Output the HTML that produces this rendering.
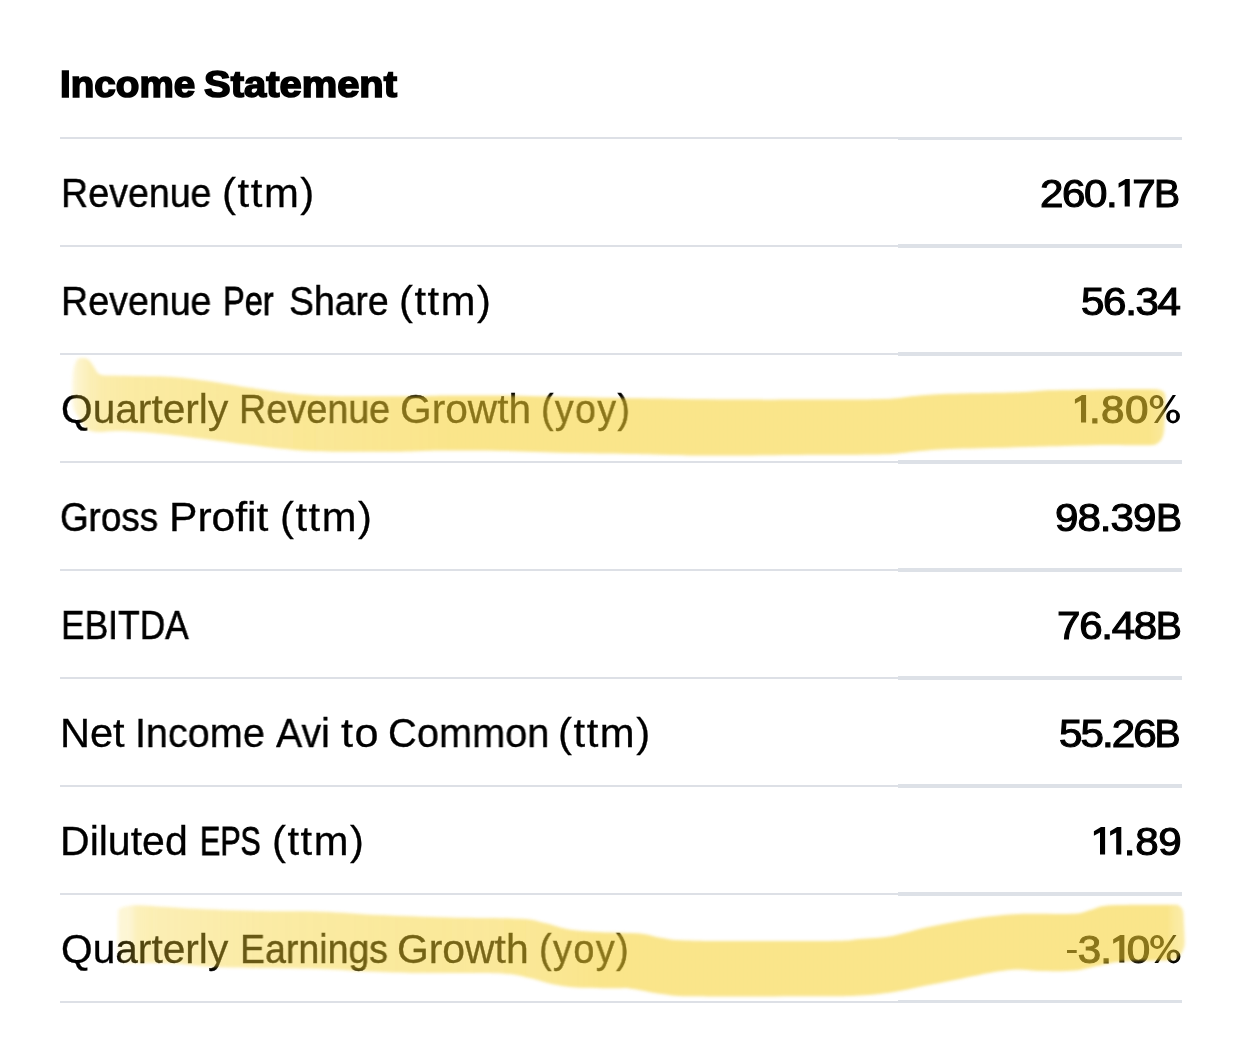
<!DOCTYPE html>
<html><head><meta charset="utf-8">
<style>
html,body{margin:0;padding:0;background:#fff;}
body{width:1242px;height:1046px;position:relative;overflow:hidden;font-family:"Liberation Sans",sans-serif;color:#000;}
.t{position:absolute;white-space:nowrap;line-height:1;will-change:transform;transform-origin:0 0;}
.title{font-weight:bold;-webkit-text-stroke:1.6px #000;}
.v{-webkit-text-stroke:1.1px #000;}
.l{-webkit-text-stroke:0.2px #000;}
.v .u{font-size:38.5px;display:inline-block;transform:scaleX(.94);transform-origin:100% 50%;margin-left:-1.3px;}
.hy{display:inline-block;width:9.3px;height:3.3px;background:#000;vertical-align:9.6px;margin-right:0.6px;}
.g1,.gp{display:inline-block;vertical-align:baseline;overflow:visible;}
.gp{margin-left:1px;position:relative;top:0.5px;}
.ln{position:absolute;left:60px;width:838px;height:2px;background:#dde0e6;}
.lr{position:absolute;left:898px;width:284px;height:3px;background:#dde1e7;}
.hl{position:absolute;left:0;top:0;pointer-events:none;}
</style></head><body>
<div class="t title" id="t_a" style="top:66.0px;font-size:37px;transform:scaleX(1.0437);left:59.79px;">Income</div>
<div class="t title" id="t_b" style="top:66.0px;font-size:37px;transform:scaleX(1.0793);left:204.26px;">Statement</div>
<div class="t l" id="l1a" style="top:173.0px;font-size:40px;transform:scaleX(0.9395);-webkit-text-stroke:0.45px #000;left:60.69px;">Revenue</div>
<div class="t l" id="l1b" style="top:173.0px;font-size:40px;letter-spacing:1.5px;transform:scaleX(1.0458);-webkit-text-stroke:0.30px #000;left:221.59px;">(ttm)</div>
<div class="t l" id="l2a" style="top:281.0px;font-size:40px;transform:scaleX(0.9395);-webkit-text-stroke:0.45px #000;left:60.69px;">Revenue</div>
<div class="t l" id="l2b" style="top:281.0px;font-size:40px;transform:scaleX(0.8133);-webkit-text-stroke:0.77px #000;left:223.12px;">Per</div>
<div class="t l" id="l2c" style="top:281.0px;font-size:40px;transform:scaleX(0.9331);-webkit-text-stroke:0.47px #000;left:289.42px;">Share</div>
<div class="t l" id="l2d" style="top:281.0px;font-size:40px;letter-spacing:1.5px;transform:scaleX(1.0407);-webkit-text-stroke:0.30px #000;left:398.69px;">(ttm)</div>
<div class="t l" id="l3a" style="top:389.0px;font-size:40px;transform:scaleX(1.0165);-webkit-text-stroke:0.30px #000;left:60.55px;">Quarterly</div>
<div class="t l" id="l3b" style="top:389.0px;font-size:40px;transform:scaleX(0.9441);-webkit-text-stroke:0.44px #000;left:238.69px;">Revenue</div>
<div class="t l" id="l3c" style="top:389.0px;font-size:40px;transform:scaleX(1.017);-webkit-text-stroke:0.30px #000;left:400.41px;">Growth</div>
<div class="t l" id="l3d" style="top:389.0px;font-size:40px;letter-spacing:1.5px;transform:scaleX(0.9382);-webkit-text-stroke:0.45px #000;left:540.97px;">(yoy)</div>
<div class="t l" id="l4a" style="top:497.0px;font-size:40px;transform:scaleX(0.919);-webkit-text-stroke:0.50px #000;left:59.62px;">Gross</div>
<div class="t l" id="l4b" style="top:497.0px;font-size:40px;transform:scaleX(1.0649);-webkit-text-stroke:0.30px #000;left:169.22px;">Profit</div>
<div class="t l" id="l4c" style="top:497.0px;font-size:40px;letter-spacing:1.5px;transform:scaleX(1.0422);-webkit-text-stroke:0.30px #000;left:279.76px;">(ttm)</div>
<div class="t l" id="l5a" style="top:605.0px;font-size:40px;transform:scaleX(0.8842);-webkit-text-stroke:0.59px #000;left:60.86px;">EBITDA</div>
<div class="t l" id="l6a" style="top:713.0px;font-size:40px;transform:scaleX(1.0386);-webkit-text-stroke:0.30px #000;left:60.34px;">Net</div>
<div class="t l" id="l6b" style="top:713.0px;font-size:40px;transform:scaleX(0.9896);-webkit-text-stroke:0.33px #000;left:135.01px;">Income</div>
<div class="t l" id="l6c" style="top:713.0px;font-size:40px;transform:scaleX(0.98);-webkit-text-stroke:0.35px #000;left:276.32px;">Avi</div>
<div class="t l" id="l6d" style="top:713.0px;font-size:40px;letter-spacing:1.5px;transform:scaleX(1.0791);-webkit-text-stroke:0.30px #000;left:340.72px;">to</div>
<div class="t l" id="l6e" style="top:713.0px;font-size:40px;transform:scaleX(0.9946);-webkit-text-stroke:0.31px #000;left:387.91px;">Common</div>
<div class="t l" id="l6f" style="top:713.0px;font-size:40px;letter-spacing:1.5px;transform:scaleX(1.0442);-webkit-text-stroke:0.30px #000;left:557.64px;">(ttm)</div>
<div class="t l" id="l7a" style="top:821.0px;font-size:40px;transform:scaleX(1.0257);-webkit-text-stroke:0.30px #000;left:59.93px;">Diluted</div>
<div class="t l" id="l7b" style="top:821.0px;font-size:40px;transform:scaleX(0.7596);-webkit-text-stroke:0.90px #000;left:199.69px;">EPS</div>
<div class="t l" id="l7c" style="top:821.0px;font-size:40px;letter-spacing:1.5px;transform:scaleX(1.0407);-webkit-text-stroke:0.30px #000;left:271.69px;">(ttm)</div>
<div class="t l" id="l8a" style="top:929.0px;font-size:40px;transform:scaleX(1.0165);-webkit-text-stroke:0.30px #000;left:60.55px;">Quarterly</div>
<div class="t l" id="l8b" style="top:929.0px;font-size:40px;transform:scaleX(0.9374);-webkit-text-stroke:0.46px #000;left:239.69px;">Earnings</div>
<div class="t l" id="l8c" style="top:929.0px;font-size:40px;transform:scaleX(1.0211);-webkit-text-stroke:0.30px #000;left:397.32px;">Growth</div>
<div class="t l" id="l8d" style="top:929.0px;font-size:40px;letter-spacing:1.5px;transform:scaleX(0.9464);-webkit-text-stroke:0.43px #000;left:538.97px;">(yoy)</div>
<div class="t v" id="v1" style="top:174.0px;font-size:39px;letter-spacing:-1.322px;transform:scaleX(1.08);left:1040.2px;">260.<svg class="g1" width="14.72" preserveAspectRatio="none" height="27.6" viewBox="0 0 15.9 27.6"><path d="M9 0H13.1V27.6H8V5.4L1.9 8.8V4.2Z"/></svg>7<span class="u">B</span></div>
<div class="t v" id="v2" style="top:282.0px;font-size:39px;letter-spacing:-1.245px;transform:scaleX(1.08);left:1081.4px;">56.34</div>
<div class="t v" id="v3" style="top:390.0px;font-size:39px;letter-spacing:0.426px;transform:scaleX(1.08);left:1073.0px;"><svg class="g1" width="14.72" preserveAspectRatio="none" height="27.6" viewBox="0 0 15.9 27.6"><path d="M9 0H13.1V27.6H8V5.4L1.9 8.8V4.2Z"/></svg>.80<svg class="gp" width="27.96" preserveAspectRatio="none" height="28.6" viewBox="0 0 30.2 28.6"><path fill-rule="evenodd" d="M0 6.95A6.9 6.95 0 1 0 13.8 6.95A6.9 6.95 0 1 0 0 6.95ZM3.7 6.95A3.2 4.2 0 1 0 10.1 6.95A3.2 4.2 0 1 0 3.7 6.95ZM16.5 21.45A6.9 6.95 0 1 0 30.3 21.45A6.9 6.95 0 1 0 16.5 21.45ZM20.2 21.45A3.2 4.2 0 1 0 26.6 21.45A3.2 4.2 0 1 0 20.2 21.45ZM23 .1H26.3L8 28.1H4.3Z"/></svg></div>
<div class="t v" id="v4" style="top:498.0px;font-size:39px;letter-spacing:-0.936px;transform:scaleX(1.08);left:1055.0px;">98.39<span class="u">B</span></div>
<div class="t v" id="v5" style="top:606.0px;font-size:39px;letter-spacing:-1.185px;transform:scaleX(1.08);left:1056.6px;">76.48<span class="u">B</span></div>
<div class="t v" id="v6" style="top:714.0px;font-size:39px;letter-spacing:-1.808px;transform:scaleX(1.08);left:1059.4px;">55.26<span class="u">B</span></div>
<div class="t v" id="v7" style="top:822.0px;font-size:39px;letter-spacing:-0.329px;transform:scaleX(1.08);left:1092.0px;"><svg class="g1" width="14.72" preserveAspectRatio="none" height="27.6" viewBox="0 0 15.9 27.6"><path d="M9 0H13.1V27.6H8V5.4L1.9 8.8V4.2Z"/></svg><svg class="g1" width="14.72" preserveAspectRatio="none" height="27.6" viewBox="0 0 15.9 27.6"><path d="M9 0H13.1V27.6H8V5.4L1.9 8.8V4.2Z"/></svg>.89</div>
<div class="t v" id="v8" style="top:930.0px;font-size:39px;letter-spacing:-0.864px;transform:scaleX(1.08);left:1067.0px;"><span class="hy"></span>3.<svg class="g1" width="14.72" preserveAspectRatio="none" height="27.6" viewBox="0 0 15.9 27.6"><path d="M9 0H13.1V27.6H8V5.4L1.9 8.8V4.2Z"/></svg>0<svg class="gp" width="27.96" preserveAspectRatio="none" height="28.6" viewBox="0 0 30.2 28.6"><path fill-rule="evenodd" d="M0 6.95A6.9 6.95 0 1 0 13.8 6.95A6.9 6.95 0 1 0 0 6.95ZM3.7 6.95A3.2 4.2 0 1 0 10.1 6.95A3.2 4.2 0 1 0 3.7 6.95ZM16.5 21.45A6.9 6.95 0 1 0 30.3 21.45A6.9 6.95 0 1 0 16.5 21.45ZM20.2 21.45A3.2 4.2 0 1 0 26.6 21.45A3.2 4.2 0 1 0 20.2 21.45ZM23 .1H26.3L8 28.1H4.3Z"/></svg></div>

<div class="ln" style="top:137px"></div><div class="lr" style="top:137px;height:3px"></div>
<div class="ln" style="top:245px"></div><div class="lr" style="top:244px;height:4px"></div>
<div class="ln" style="top:353px"></div><div class="lr" style="top:352px;height:4px"></div>
<div class="ln" style="top:461px"></div><div class="lr" style="top:460px;height:4px"></div>
<div class="ln" style="top:569px"></div><div class="lr" style="top:568px;height:4px"></div>
<div class="ln" style="top:677px"></div><div class="lr" style="top:676px;height:4px"></div>
<div class="ln" style="top:785px"></div><div class="lr" style="top:784px;height:4px"></div>
<div class="ln" style="top:893px"></div><div class="lr" style="top:892px;height:4px"></div>
<div class="ln" style="top:1001px"></div><div class="lr" style="top:1000px;height:3px"></div>

<svg class="hl" width="1242" height="1046" viewBox="0 0 1242 1046">
<defs>
<filter id="b" x="-2%" y="-20%" width="104%" height="140%"><feGaussianBlur stdDeviation="1.6"/></filter>
<linearGradient id="g1" gradientUnits="userSpaceOnUse" x1="68" y1="0" x2="1172" y2="0">
<stop offset="0.0000" stop-color="#f5d02e" stop-opacity="0.020"/>
<stop offset="0.0036" stop-color="#f5d02e" stop-opacity="0.120"/>
<stop offset="0.0091" stop-color="#f5d02e" stop-opacity="0.250"/>
<stop offset="0.0199" stop-color="#f5d02e" stop-opacity="0.340"/>
<stop offset="0.0290" stop-color="#f5d02e" stop-opacity="0.400"/>
<stop offset="0.0562" stop-color="#f5d02e" stop-opacity="0.440"/>
<stop offset="0.1649" stop-color="#f5d02e" stop-opacity="0.480"/>
<stop offset="0.2373" stop-color="#f5d02e" stop-opacity="0.510"/>
<stop offset="0.3460" stop-color="#f5d02e" stop-opacity="0.560"/>
<stop offset="0.9801" stop-color="#f5d02e" stop-opacity="0.560"/>
<stop offset="0.9891" stop-color="#f5d02e" stop-opacity="0.500"/>
<stop offset="0.9964" stop-color="#f5d02e" stop-opacity="0.420"/>
</linearGradient>
<linearGradient id="g2" gradientUnits="userSpaceOnUse" x1="114" y1="0" x2="1188" y2="0">
<stop offset="0.0000" stop-color="#f5d02e" stop-opacity="0.150"/>
<stop offset="0.0149" stop-color="#f5d02e" stop-opacity="0.220"/>
<stop offset="0.0214" stop-color="#f5d02e" stop-opacity="0.320"/>
<stop offset="0.0428" stop-color="#f5d02e" stop-opacity="0.370"/>
<stop offset="0.1359" stop-color="#f5d02e" stop-opacity="0.430"/>
<stop offset="0.2663" stop-color="#f5d02e" stop-opacity="0.470"/>
<stop offset="0.3780" stop-color="#f5d02e" stop-opacity="0.500"/>
<stop offset="0.4525" stop-color="#f5d02e" stop-opacity="0.560"/>
<stop offset="0.9814" stop-color="#f5d02e" stop-opacity="0.560"/>
<stop offset="0.9870" stop-color="#f5d02e" stop-opacity="0.460"/>
<stop offset="1.0000" stop-color="#f5d02e" stop-opacity="0.400"/>
</linearGradient>
</defs>
<path filter="url(#b)" fill="url(#g1)" d="M72.0 392.0 C72.0 386.2 72.2 377.3 73.0 372.0 C73.8 366.7 75.3 362.3 77.0 360.0 C78.7 357.7 81.0 358.0 83.0 358.0 C85.0 358.0 87.2 358.5 89.0 360.0 C90.8 361.5 92.2 364.6 94.0 367.0 C95.8 369.4 96.5 373.1 100.0 374.5 C103.5 375.9 108.3 375.2 115.0 375.5 C121.7 375.8 130.5 375.8 140.0 376.0 C149.5 376.2 162.0 376.3 172.0 377.0 C182.0 377.7 190.3 378.8 200.0 380.0 C209.7 381.2 221.7 383.2 230.0 384.5 C238.3 385.8 238.7 386.2 250.0 387.8 C261.3 389.4 282.0 392.8 298.0 394.2 C314.0 395.6 327.2 395.9 346.0 396.2 C364.8 396.5 393.7 396.3 411.0 396.2 C428.3 396.1 434.5 395.7 450.0 395.6 C465.5 395.5 484.2 395.4 504.0 395.6 C523.8 395.8 546.3 396.6 569.0 397.0 C591.7 397.4 613.2 397.9 640.0 398.3 C666.8 398.7 698.3 399.4 730.0 399.6 C761.7 399.8 804.3 399.7 830.0 399.6 C855.7 399.5 869.7 399.7 884.0 399.1 C898.3 398.5 905.2 396.8 916.0 395.9 C926.8 395.0 931.7 394.4 949.0 393.8 C966.3 393.2 1003.2 392.8 1020.0 392.2 C1036.8 391.6 1035.7 390.8 1050.0 390.3 C1064.3 389.9 1089.3 389.7 1106.0 389.5 C1122.7 389.3 1141.0 389.2 1150.0 389.3 C1159.0 389.4 1157.6 389.4 1160.0 390.0 C1162.4 390.6 1163.6 391.3 1164.5 393.0 C1165.4 394.7 1165.5 394.7 1165.5 400.0 C1165.5 405.3 1164.9 419.0 1164.5 425.0 C1164.1 431.0 1164.1 433.0 1163.0 436.0 C1161.9 439.0 1160.5 441.4 1158.0 443.0 C1155.5 444.6 1156.7 445.0 1148.0 445.3 C1139.3 445.6 1122.3 444.8 1106.0 445.0 C1089.7 445.2 1066.0 445.9 1050.0 446.3 C1034.0 446.7 1026.8 446.9 1010.0 447.4 C993.2 447.8 964.7 448.3 949.0 449.0 C933.3 449.7 926.8 450.5 916.0 451.4 C905.2 452.3 900.0 453.8 884.0 454.3 C868.0 454.9 850.7 454.5 820.0 454.7 C789.3 454.9 731.7 455.6 700.0 455.5 C668.3 455.4 651.8 454.4 630.0 454.0 C608.2 453.6 590.0 453.5 569.0 453.0 C548.0 452.5 525.5 451.5 504.0 451.1 C482.5 450.7 455.5 450.6 440.0 450.6 C424.5 450.7 426.7 451.2 411.0 451.4 C395.3 451.6 364.8 452.0 346.0 451.8 C327.2 451.6 314.0 451.3 298.0 450.2 C282.0 449.1 261.3 446.3 250.0 445.0 C238.7 443.7 238.3 443.6 230.0 442.5 C221.7 441.4 211.7 440.0 200.0 438.5 C188.3 437.0 173.3 434.9 160.0 433.7 C146.7 432.4 130.3 431.3 120.0 431.0 C109.7 430.7 103.5 432.3 98.0 432.0 C92.5 431.7 90.2 431.3 87.0 429.0 C83.8 426.7 81.3 421.7 79.0 418.0 C76.7 414.3 74.2 411.3 73.0 407.0 C71.8 402.7 72.0 397.8 72.0 392.0Z"/>
<path filter="url(#b)" fill="url(#g2)" d="M118.0 914.0 C118.3 907.1 118.3 909.8 120.0 908.5 C121.7 907.2 124.6 906.5 128.0 906.0 C131.4 905.5 130.3 904.9 140.5 905.3 C150.7 905.7 169.1 907.5 189.0 908.5 C208.9 909.5 237.8 910.5 260.0 911.0 C282.2 911.5 302.2 911.0 322.0 911.7 C341.8 912.4 357.7 914.0 379.0 915.0 C400.3 916.0 426.5 916.8 450.0 917.4 C473.5 918.0 504.2 917.8 520.0 918.7 C535.8 919.6 536.8 921.2 545.0 923.0 C553.2 924.8 559.7 928.0 569.0 929.5 C578.3 931.0 589.2 931.5 601.0 932.2 C612.8 932.9 629.8 932.5 640.0 933.5 C650.2 934.5 653.0 936.8 662.0 938.0 C671.0 939.2 666.0 940.2 694.0 940.7 C722.0 941.2 802.3 941.2 830.0 940.9 C857.7 940.6 849.6 939.8 860.0 939.0 C870.4 938.2 881.7 937.8 892.5 935.9 C903.3 934.0 914.0 930.2 924.7 927.8 C935.5 925.4 946.3 923.3 957.0 921.4 C967.7 919.5 978.5 917.8 989.0 916.6 C999.5 915.4 1005.8 914.5 1020.0 914.0 C1034.2 913.5 1062.2 914.4 1074.0 913.8 C1085.8 913.1 1084.5 911.5 1090.5 910.1 C1096.5 908.7 1096.6 906.2 1110.0 905.3 C1123.4 904.4 1159.5 904.7 1171.0 904.8 C1182.5 904.9 1177.0 905.0 1179.0 906.0 C1181.0 907.0 1182.2 907.8 1183.0 911.0 C1183.8 914.2 1183.7 919.7 1184.0 925.0 C1184.3 930.3 1184.9 938.8 1184.7 943.0 C1184.5 947.2 1184.0 947.8 1183.0 950.0 C1182.0 952.2 1181.0 954.3 1179.0 956.0 C1177.0 957.7 1180.4 959.1 1171.0 960.0 C1161.6 960.9 1134.8 960.5 1122.7 961.5 C1110.6 962.5 1106.6 964.2 1098.6 965.7 C1090.5 967.2 1083.8 969.6 1074.4 970.5 C1065.0 971.4 1051.1 971.2 1042.0 971.0 C1032.9 970.8 1026.2 969.6 1020.0 969.5 C1013.8 969.4 1010.2 969.9 1005.0 970.5 C999.8 971.1 997.0 971.4 989.0 972.9 C981.0 974.4 967.7 977.2 957.0 979.4 C946.3 981.5 935.5 983.6 924.7 985.8 C914.0 987.9 903.3 990.7 892.5 992.3 C881.7 993.9 872.1 994.8 860.0 995.5 C847.9 996.2 847.7 996.2 820.0 996.3 C792.3 996.4 720.3 996.7 694.0 996.3 C667.7 995.9 672.7 995.2 662.0 993.9 C651.3 992.6 637.5 989.3 630.0 988.4 C622.5 987.5 625.8 988.4 617.0 988.2 C608.2 988.0 587.7 988.1 577.0 987.4 C566.3 986.7 560.8 985.8 552.7 984.2 C544.6 982.6 536.7 979.5 528.6 977.8 C520.5 976.0 519.2 974.5 504.4 973.7 C489.6 972.9 455.6 973.1 440.0 973.0 C424.4 972.9 423.8 973.3 411.0 973.0 C398.2 972.7 377.8 972.0 363.0 971.3 C348.2 970.6 339.2 969.5 322.0 969.0 C304.8 968.5 278.2 968.3 260.0 968.0 C241.8 967.7 227.6 967.7 213.0 967.0 C198.4 966.3 184.9 964.2 172.7 963.6 C160.5 963.0 148.1 963.5 140.0 963.5 C131.9 963.5 127.4 963.9 124.0 963.5 C120.6 963.1 120.6 963.2 119.6 961.0 C118.6 958.8 118.3 957.8 118.0 950.0 C117.7 942.2 117.7 920.9 118.0 914.0Z"/>
</svg>

</body></html>
